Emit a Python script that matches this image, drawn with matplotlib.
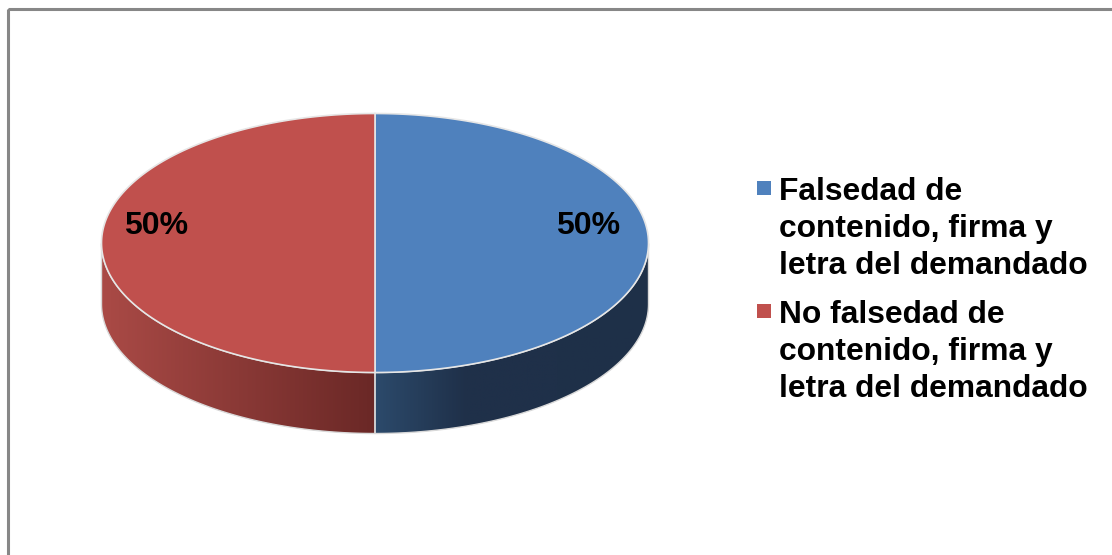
#!/usr/bin/env python3
"""Pie 3D (style Excel) : falsedad de contenido, firma y letra del demandado."""

import numpy as np
import matplotlib
matplotlib.use("Agg")
import matplotlib.pyplot as plt  # noqa: E402
from matplotlib.patches import Polygon, Rectangle  # noqa: E402
from matplotlib.colors import LinearSegmentedColormap  # noqa: E402

plt.rcParams["font.family"] = ["Liberation Sans", "DejaVu Sans"]

# donnees
labels = ["Falsedad de\ncontenido, firma y\nletra del demandado",
          "No falsedad de\ncontenido, firma y\nletra del demandado"]
values = [50, 50]
top_colors = ["#4F81BD", "#C0504D"]
side_colors = [("#2C4A6B", "#1F3049"), ("#AA4A46", "#6A2826")]

W, H = 1112, 555
CX, CY = 375.0, 243.0     # centre de l'ellipse du dessus (pixels)
RX, RY = 273.5, 129.5
DEPTH = 61.0

fig = plt.figure(figsize=(W / 100, H / 100), dpi=100)
ax = fig.add_axes([0, 0, 1, 1])
ax.set_xlim(0, W)
ax.set_ylim(H, 0)
ax.axis("off")

# cadre gris du graphique
ax.add_patch(Rectangle((8, 8.5), W + 20, H + 20, fill=False,
                       edgecolor="#878787", lw=2.2, zorder=0))


def pt(th, dz=0.0):
    return CX + RX * np.cos(th), CY - RY * np.sin(th) + dz


# angles : depart a 90 deg, sens horaire
total = float(sum(values))
starts, ends = [], []
a = np.pi / 2
for v in values:
    starts.append(a)
    a -= 2 * np.pi * v / total
    ends.append(a)

# cotes (partie avant visible, sin(theta) < 0)
for i in range(len(values)):
    lo, hi = min(starts[i], ends[i]), max(starts[i], ends[i])
    ths = np.linspace(lo, hi, 400)
    front = ths[np.sin(ths) < 1e-9]
    if len(front) < 2:
        continue
    x0, y0 = pt(front)
    x1, y1 = pt(front[::-1], DEPTH)
    poly = np.column_stack([np.r_[x0, x1], np.r_[y0, y1]])
    patch = Polygon(poly, closed=True, facecolor="none", edgecolor="none")
    ax.add_patch(patch)
    xa, xb = poly[:, 0].min(), poly[:, 0].max()
    c_out, c_in = side_colors[i]
    if xa < CX - 1:
        cmap = LinearSegmentedColormap.from_list("s%d" % i, [c_out, c_in])
    else:
        cmap = LinearSegmentedColormap.from_list(
            "s%d" % i, [c_out, c_in, c_in, "#1E3048"])
    grad = np.linspace(0, 1, 256).reshape(1, -1)
    im = ax.imshow(grad, cmap=cmap, aspect="auto",
                   extent=(xa, xb, poly[:, 1].max(), poly[:, 1].min()),
                   zorder=2)
    im.set_clip_path(patch)
    ax.add_patch(Polygon(poly, closed=True, facecolor="none",
                         edgecolor="#D9D9D9", lw=1.0, zorder=3))

# dessus
for i in range(len(values)):
    ths = np.linspace(starts[i], ends[i], 400)
    xs, ys = pt(ths)
    poly = np.column_stack([np.r_[CX, xs], np.r_[CY, ys]])
    ax.add_patch(Polygon(poly, closed=True, facecolor=top_colors[i],
                         edgecolor="#E6E6E6", lw=1.2, zorder=4))

# etiquettes
for i in range(len(values)):
    pct = "%d%%" % round(100 * values[i] / total)
    mid = (starts[i] + ends[i]) / 2
    lx = CX + 0.79 * RX * np.cos(mid) - 2.5
    ly = CY - 17
    ax.text(lx, ly, pct, ha="center", va="center", fontsize=23.0,
            fontweight="bold", color="black", zorder=5)

# legende
leg_y = [188, 311]
for i in range(len(values)):
    ax.add_patch(Rectangle((757, leg_y[i] - 7), 14, 14,
                           facecolor=top_colors[i], edgecolor="none", zorder=5))
    ax.text(779, leg_y[i] - 11, labels[i], ha="left", va="top",
            fontsize=22.9, fontweight="bold", linespacing=1.31, zorder=5)

fig.savefig("out.png", dpi=100)
